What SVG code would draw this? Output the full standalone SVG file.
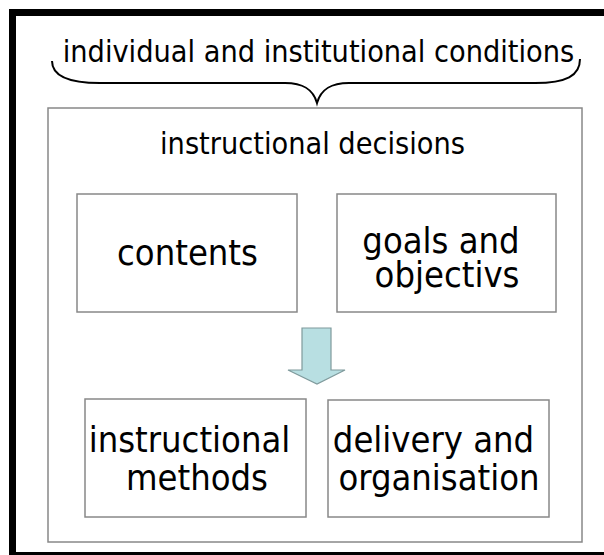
<svg xmlns="http://www.w3.org/2000/svg" width="604" height="555" viewBox="0 0 604 555">
<style>
text{font-family:"DejaVu Sans Condensed","DejaVu Sans",Verdana,sans-serif;fill:#000;text-anchor:middle}
.t30{font-size:30.3px}
.t36{font-size:36px}
.box{fill:#fff;stroke:#888;stroke-width:1.5}
</style>
<rect x="0" y="0" width="604" height="555" fill="#fff"/>
<rect x="12.5" y="12.5" width="600" height="543" fill="none" stroke="#000" stroke-width="7"/>
<g id="conditions">
<text class="t30" x="318.5" y="62">individual and institutional conditions</text>
<path d="M52,61 C52,76 68,83 100,83 L285,83 C303,83 313,89 317,103 C321,89 331,83 349,83 L535,83 C566,83 580,76 580,59" fill="none" stroke="#000" stroke-width="2"/>
</g>
<g id="decisions">
<rect class="box" x="48" y="108" width="534" height="434" stroke="#aaa"/>
<text class="t30" x="312.5" y="154">instructional decisions</text>
</g>
<g id="contents">
<rect class="box" x="77" y="194" width="220" height="118"/>
<text class="t36" x="187.5" y="265">contents</text>
</g>
<g id="goals">
<rect class="box" x="337" y="194" width="219" height="118"/>
<text class="t36" x="441" y="253">goals and</text>
<text class="t36" x="447" y="287">objectivs</text>
</g>
<g id="connectors">
<path d="M302,328 L331,328 L331,370 L345,370 L317,384 L288,370 L302,370 Z" fill="#b8dfe2" stroke="#7f9a9c" stroke-width="1.2"/>
</g>
<g id="methods">
<rect class="box" x="85" y="399" width="221" height="118"/>
<text class="t36" x="189.5" y="452">instructional</text>
<text class="t36" x="197" y="490">methods</text>
</g>
<g id="delivery">
<rect class="box" x="328" y="400" width="221" height="117"/>
<text class="t36" x="433.5" y="452">delivery and</text>
<text class="t36" x="439" y="490">organisation</text>
</g>
</svg>
